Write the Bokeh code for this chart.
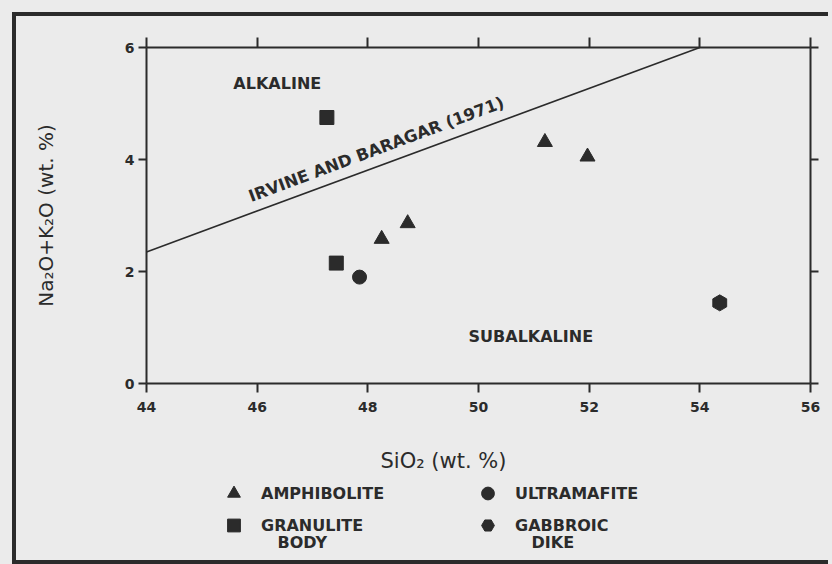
from bokeh.plotting import figure
from bokeh.layouts import column
from bokeh.models import (Range1d, LinearAxis, FixedTicker, CustomJSTickFormatter,
                          Legend, LegendItem, Label)
from bokeh.core.properties import value
from bokeh.embed import file_html
from bokeh.resources import INLINE

# --- data -------------------------------------------------------------
amph_sio2 = [48.25, 48.72, 51.20, 51.97]
amph_alk = [2.58, 2.86, 4.31, 4.05]

gran_sio2 = [47.26, 47.43]
gran_alk = [4.75, 2.15]

ultra_sio2 = [47.85]
ultra_alk = [1.90]

gabbro_sio2 = [54.36]
gabbro_alk = [1.44]

# Irvine & Baragar (1971) alkaline / subalkaline divide
divide_sio2 = [44.0, 54.0]
divide_alk = [2.35, 6.0]

x_ticks = [44, 46, 48, 50, 52, 54, 56]
y_ticks = [0, 2, 4, 6]

# --- styling ----------------------------------------------------------
BG = "#ebebeb"
INK = "#2b2b2b"
FONT = "DejaVu Sans"

series = [
    ("AMPHIBOLITE", amph_sio2, amph_alk, dict(marker="triangle", size=15)),
    ("GRANULITE", gran_sio2, gran_alk, dict(marker="square", size=14)),
    ("ULTRAMAFITE", ultra_sio2, ultra_alk, dict(marker="circle", size=14)),
    ("GABBROIC", gabbro_sio2, gabbro_alk,
     dict(marker="hex", size=16, angle=30, angle_units="deg")),
]

p = figure(width=816, height=407, output_backend="svg", toolbar_location=None,
           x_range=Range1d(44, 56), y_range=Range1d(0, 6),
           min_border_left=130, min_border_right=22,
           min_border_top=31, min_border_bottom=40)
p.background_fill_color = None
p.border_fill_color = BG
p.outline_line_color = None
p.xgrid.visible = False
p.ygrid.visible = False

blank = CustomJSTickFormatter(code="return ''")

def style_axis(ax, ticks, tick_len, show_labels):
    ax.ticker = FixedTicker(ticks=ticks, minor_ticks=[])
    ax.axis_line_color = INK
    ax.axis_line_width = 2
    ax.major_tick_line_color = INK
    ax.major_tick_line_width = 2
    ax.major_tick_in = 0
    ax.major_tick_out = tick_len
    ax.minor_tick_line_color = None
    ax.major_label_text_font = FONT
    ax.major_label_text_font_style = "bold"
    ax.major_label_text_font_size = "14px"
    ax.major_label_text_color = INK
    if not show_labels:
        ax.formatter = blank

xax = p.xaxis[0]
yax = p.yaxis[0]
style_axis(xax, x_ticks, 9, True)
style_axis(yax, y_ticks, 8, True)
xax.major_label_standoff = 9
yax.major_label_standoff = 4

yax.axis_label = "Na\u2082O+K\u2082O (wt. %)"
yax.axis_label_text_font = FONT
yax.axis_label_text_font_style = "normal"
yax.axis_label_text_font_size = "20px"
yax.axis_label_text_color = INK
yax.axis_label_standoff = 64

top_ax = LinearAxis()
style_axis(top_ax, x_ticks, 10, False)
p.add_layout(top_ax, "above")
right_ax = LinearAxis()
style_axis(right_ax, y_ticks, 8, False)
p.add_layout(right_ax, "right")

# divide line and its label
p.line(divide_sio2, divide_alk, line_color=INK, line_width=1.6)
label_x = 45.86
label_y = divide_alk[0] + (label_x - divide_sio2[0]) * \
    (divide_alk[1] - divide_alk[0]) / (divide_sio2[1] - divide_sio2[0])
p.text(x=[label_x], y=[label_y], text=["IRVINE AND BARAGAR (1971)"],
       angle=20.5, angle_units="deg", y_offset=-17,
       text_font=value(FONT), text_font_style="bold",
       text_font_size="16.5px", text_color=INK, text_baseline="alphabetic",
       text_align="left")

# field names
p.text(x=[45.57], y=[5.36], text=["ALKALINE"], text_font=value(FONT),
       text_font_style="bold", text_font_size="16px", text_color=INK,
       text_baseline="middle", text_align="left")
p.text(x=[49.82], y=[0.84], text=["SUBALKALINE"], text_font=value(FONT),
       text_font_style="bold", text_font_size="16px", text_color=INK,
       text_baseline="middle", text_align="left")

# samples
for name, xs, ys, mk in series:
    p.scatter(xs, ys, fill_color=INK, line_color=INK, **mk)

# strip beneath the diagram: x caption and key. Its range lies away from
# the samples, so only the legend swatches of these renderers show.
key = figure(width=816, height=137, output_backend="svg", toolbar_location=None,
             x_range=Range1d(0, 1), y_range=Range1d(0, 1),
             x_axis_location=None, y_axis_location=None,
             min_border_left=130, min_border_right=22,
             min_border_top=0, min_border_bottom=0)
key.background_fill_color = None
key.border_fill_color = BG
key.outline_line_color = None
key.xgrid.visible = False
key.ygrid.visible = False

key.add_layout(Label(x=234, y=100, x_units="screen", y_units="screen",
                     text="SiO\u2082 (wt. %)", text_font=FONT,
                     text_font_style="normal", text_font_size="21px",
                     text_color=INK, text_baseline="middle", text_align="left"))

items = []
for name, xs, ys, mk in series:
    r = key.scatter(xs, ys, fill_color=INK, line_color=INK, **mk)
    items.append(LegendItem(label=name, renderers=[r]))

legend = Legend(items=items, location=(70, 19), ncols=2, nrows=2)
legend.glyph_width = 35
legend.glyph_height = 32
legend.label_standoff = 10
legend.label_width = 209
legend.spacing = 0
legend.padding = 0
legend.margin = 0
legend.border_line_color = None
legend.background_fill_alpha = 0
legend.label_text_font = FONT
legend.label_text_font_style = "bold"
legend.label_text_font_size = "16px"
legend.label_text_color = INK
key.add_layout(legend, "center")

# second lines of the two-word entries
for word, xoff in (("BODY", 131), ("DIKE", 385)):
    key.add_layout(Label(x=xoff, y=18, x_units="screen", y_units="screen",
                         text=word, text_font=FONT, text_font_style="bold",
                         text_font_size="16px", text_color=INK,
                         text_baseline="middle", text_align="left"))

# heavy page rule on the left, top and bottom
page = column(p, key, spacing=0, styles={
    "margin-left": "16px",
    "margin-top": "16px",
    "background-color": BG,
    "box-shadow": "-4px -4px 0 0 %s, -4px 4px 0 0 %s, 0 0 0 16px %s" % (INK, INK, BG),
})

open("out.html", "w").write(file_html(page, INLINE))
